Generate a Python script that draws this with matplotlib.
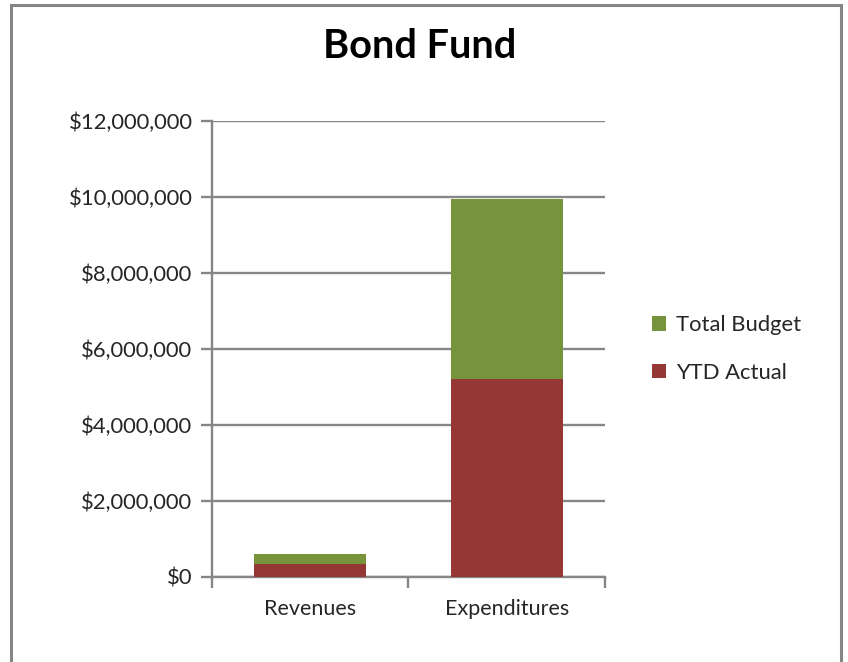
import matplotlib.pyplot as plt
from matplotlib.patches import Rectangle
from matplotlib.ticker import FuncFormatter

# Bond Fund: budget vs. year-to-date actual
categories = ['Revenues', 'Expenditures']
total_budget = [600000, 9950000]
ytd_actual = [330000, 5220000]

green = '#77933C'
red = '#953735'
grey = '#868686'

plt.rcParams['font.family'] = ['Lato', 'DejaVu Sans']

fig = plt.figure(figsize=(8.48, 6.62), dpi=100)
ax = fig.add_axes([0.25, 0.1284, 0.4634, 0.6888])

x = range(len(categories))
# budget bar behind, actual in front
ax.bar(x, total_budget, width=0.57, color=green, label='Total Budget', zorder=2)
ax.bar(x, ytd_actual, width=0.57, color=red, label='YTD Actual', zorder=3)

ax.set_xlim(-0.5, 1.5)
ax.set_ylim(0, 12000000)
ax.set_yticks(range(0, 12000001, 2000000))
ax.yaxis.set_major_formatter(FuncFormatter(lambda v, p: '${:,.0f}'.format(v)))
ax.grid(axis='y', color=grey, linewidth=1.7, zorder=0)

# category labels between boundary ticks
ax.set_xticks([-0.5, 0.5, 1.5])
ax.set_xticklabels([])
ax.set_xticks(list(x), minor=True)
ax.set_xticklabels(categories, minor=True, fontsize=15.5, color='#262626')
ax.tick_params(axis='x', which='minor', length=0, pad=16)
ax.tick_params(axis='x', which='major', length=8, width=1.7, color=grey)
ax.tick_params(axis='y', length=8, width=1.7, color=grey, labelsize=15.8,
               labelcolor='#262626', pad=6)

for s in ['top', 'right']:
    ax.spines[s].set_visible(False)
for s in ['left', 'bottom']:
    ax.spines[s].set_color(grey)
    ax.spines[s].set_linewidth(1.7)

ax.legend(loc='center left', bbox_to_anchor=(1.07, 0.5),
          frameon=False, fontsize=15.8, handlelength=0.65, handleheight=0.65,
          handletextpad=0.45, labelspacing=1.25, labelcolor='#262626')

fig.text(0.495, 0.93, 'Bond Fund', ha='center', va='center',
         fontsize=28.5, fontweight='bold', color='black')

# chart frame
fig.patches.append(Rectangle((11 / 848, -0.05), 830 / 848, 1.05 - 5 / 662,
                             transform=fig.transFigure, fill=False,
                             edgecolor=grey, linewidth=2.2))

fig.savefig('out.png', dpi=100)
